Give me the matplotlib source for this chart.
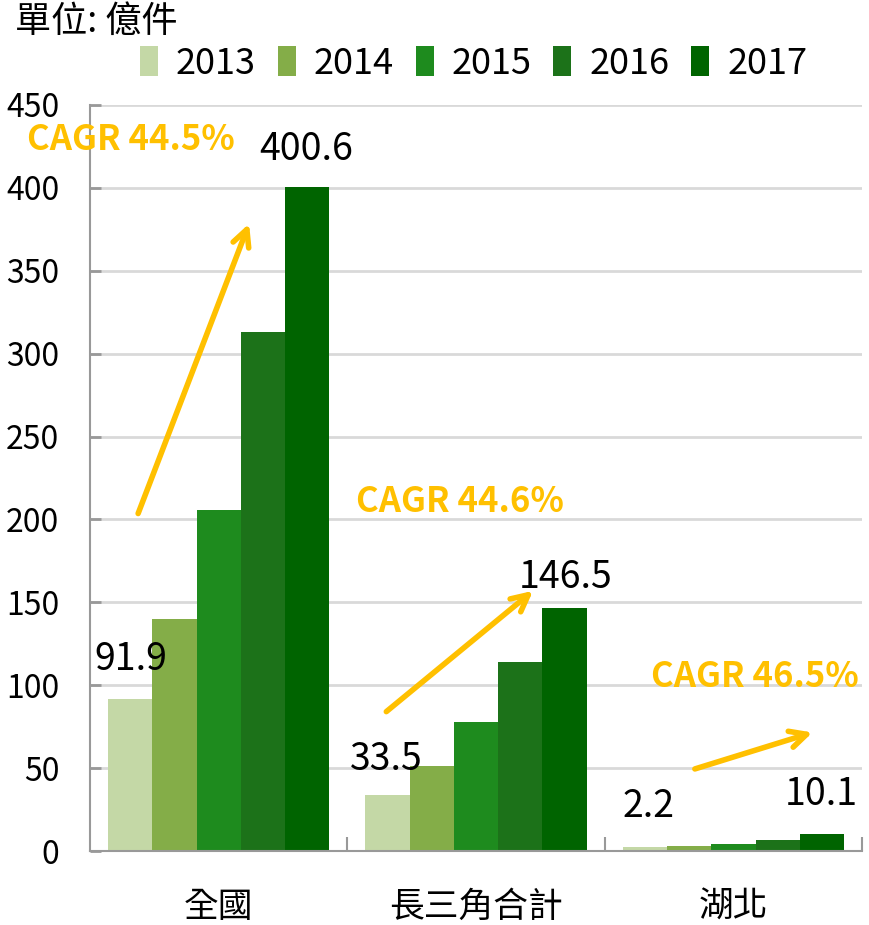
import numpy as np
import matplotlib.pyplot as plt

plt.rcParams['font.family'] = ['Noto Sans CJK TC', 'DejaVu Sans']

# 資料
categories = ['全國', '長三角合計', '湖北']
years = ['2013', '2014', '2015', '2016', '2017']
values = {
    '2013': [91.9, 33.5, 2.2],
    '2014': [140.0, 51.5, 3.3],
    '2015': [205.5, 78.0, 4.5],
    '2016': [313.0, 114.0, 6.8],
    '2017': [400.6, 146.5, 10.1],
}
colors = ['#c4d8a6', '#84ad48', '#1e8b1e', '#1c7219', '#006400']
cagr_labels = ['CAGR 44.5%', 'CAGR 44.6%', 'CAGR 46.5%']

fig = plt.figure(figsize=(8.69, 9.25), dpi=100)
ax = fig.add_axes([0.1036, 0.08, 0.8884, 0.8065])

x = np.arange(len(categories))
w = 0.172
for i, y in enumerate(years):
    ax.bar(x + (i - 2) * w, values[y], w, color=colors[i], label=y,
           edgecolor='none', zorder=2)

ax.set_xlim(-0.5, 2.5)
ax.set_ylim(0, 450)
ax.set_yticks(range(0, 451, 50))
ax.set_xticks(x)
ax.set_xticklabels(categories, fontsize=25)
ax.set_xticks([0.5, 1.5, 2.5], minor=True)
ax.tick_params(axis='x', which='major', length=0, pad=28)
ax.tick_params(axis='x', which='minor', direction='in', length=10, color='#999999', width=1.5)
ax.tick_params(axis='y', direction='in', length=8, color='#999999', width=2,
               labelsize=23, pad=22)
ax.grid(axis='y', color='#d9d9d9', lw=2, zorder=0)
for s in ['top', 'right']:
    ax.spines[s].set_visible(False)
ax.spines['left'].set_color('#999999')
ax.spines['bottom'].set_color('#999999')
ax.spines['left'].set_linewidth(1.5)
ax.spines['bottom'].set_linewidth(1.5)

# 數值標籤 (第一年與最後一年)
first = values['2013']
last = values['2017']
lab_fs = 27
lab_kw = dict(ha='center', va='bottom', fontsize=lab_fs)
ax.text(-0.34, first[0] + 12, f'{first[0]}', **lab_kw)
ax.text(0.34, last[0] + 11, f'{last[0]}', **lab_kw)
ax.text(0.65, first[1] + 10, f'{first[1]}', **lab_kw)
ax.text(1.35, last[1] + 7, f'{last[1]}', **lab_kw)
ax.text(1.67, first[2] + 13, f'{first[2]}', **lab_kw)
ax.text(2.34, last[2] + 12, f'{last[2]}', **lab_kw)

# CAGR 箭頭
orange = '#ffc000'
arrows = [((-0.317, 202), (0.122, 380)), ((0.643, 83), (1.23, 158)), ((1.84, 49), (2.318, 72))]
for (p0, p1) in arrows:
    ax.annotate('', xy=p1, xytext=p0,
                arrowprops=dict(arrowstyle='->', lw=4, color=orange, mutation_scale=30))
cagr_kw = dict(color=orange, fontsize=25, fontweight='bold', ha='center', va='center', clip_on=False)
ax.text(-0.34, 429, cagr_labels[0], **cagr_kw)
ax.text(0.938, 211, cagr_labels[1], **cagr_kw)
ax.text(2.085, 105.5, cagr_labels[2], **cagr_kw)

fig.text(0.017, 0.976, '單位: 億件', fontsize=26, ha='left', va='center')
fig.legend(loc='center', bbox_to_anchor=(0.545, 0.931), ncol=5, frameon=False,
           fontsize=26, handlelength=0.5, handleheight=0.9, handletextpad=0.5,
           columnspacing=0.6)

fig.savefig('out.png', dpi=100)
